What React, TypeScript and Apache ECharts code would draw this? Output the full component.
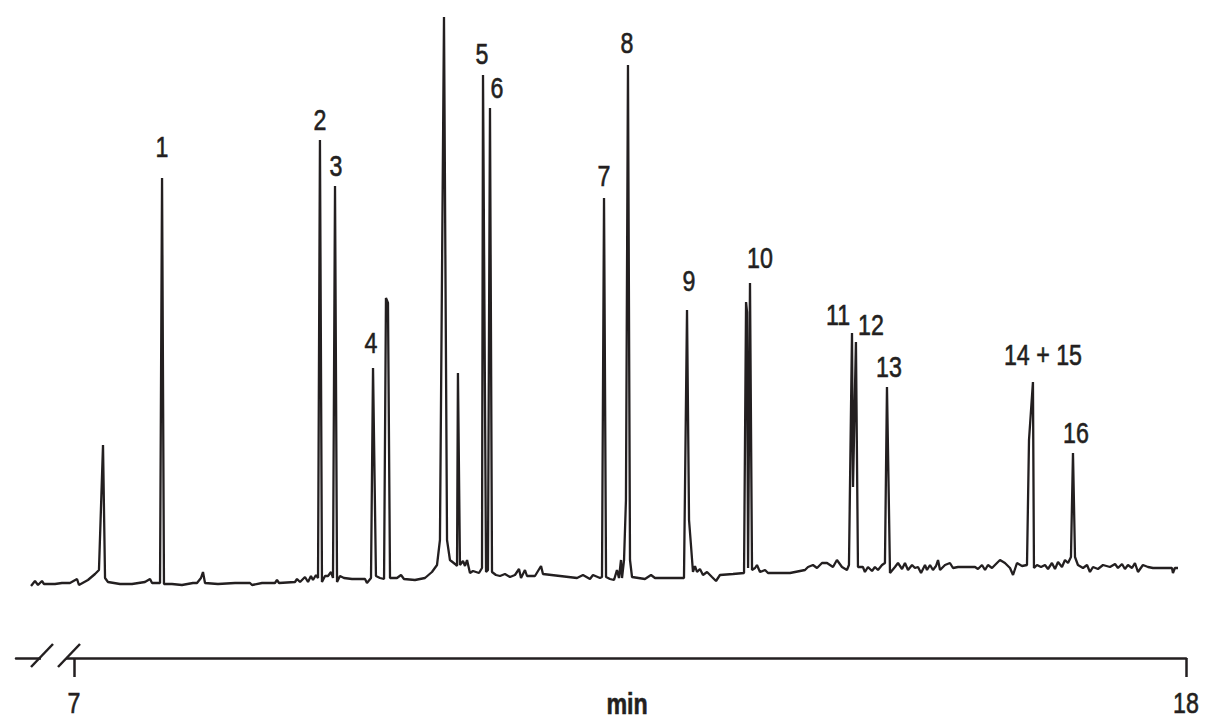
import React, { useEffect, useRef } from "react";
import * as echarts from "echarts";

// Retention time (min) of each sampled point of the chromatogram trace
const retentionTimes = [
  6.575, 6.614, 6.644, 6.683, 6.703, 6.812, 6.881, 6.960, 7.030, 7.049,
  7.138, 7.208, 7.247, 7.287, 7.307, 7.336, 7.455, 7.574, 7.702, 7.752,
  7.772, 7.851, 7.871, 7.890, 7.969, 8.068, 8.177, 8.217, 8.256, 8.276,
  8.296, 8.424, 8.593, 8.741, 8.761, 8.860, 8.988, 9.008, 9.028, 9.186,
  9.206, 9.236, 9.285, 9.315, 9.344, 9.364, 9.394, 9.414, 9.433, 9.453,
  9.483, 9.513, 9.542, 9.562, 9.582, 9.602, 9.631, 9.671, 9.750, 9.879,
  9.898, 9.938, 9.958, 9.987, 10.027, 10.067, 10.086, 10.106, 10.126, 10.195,
  10.235, 10.264, 10.373, 10.472, 10.541, 10.591, 10.620, 10.660, 10.690, 10.719,
  10.769, 10.789, 10.798, 10.818, 10.848, 10.868, 10.888, 10.917, 10.947, 11.006,
  11.036, 11.046, 11.076, 11.095, 11.115, 11.135, 11.174, 11.214, 11.263, 11.313,
  11.362, 11.402, 11.422, 11.461, 11.481, 11.560, 11.620, 11.639, 11.808, 11.976,
  12.035, 12.104, 12.134, 12.203, 12.223, 12.243, 12.263, 12.302, 12.342, 12.371,
  12.391, 12.411, 12.421, 12.441, 12.460, 12.480, 12.500, 12.520, 12.648, 12.708,
  12.747, 13.034, 13.064, 13.084, 13.103, 13.123, 13.143, 13.163, 13.192, 13.222,
  13.262, 13.311, 13.351, 13.390, 13.519, 13.628, 13.648, 13.658, 13.668, 13.687,
  13.707, 13.737, 13.756, 13.786, 13.836, 13.865, 13.984, 14.083, 14.182, 14.231,
  14.261, 14.310, 14.350, 14.399, 14.449, 14.508, 14.547, 14.597, 14.646, 14.666,
  14.696, 14.706, 14.735, 14.755, 14.804, 14.824, 14.854, 14.894, 14.923, 14.953,
  14.993, 15.022, 15.042, 15.072, 15.121, 15.151, 15.191, 15.220, 15.250, 15.290,
  15.319, 15.349, 15.379, 15.418, 15.438, 15.468, 15.497, 15.527, 15.547, 15.567,
  15.616, 15.665, 15.695, 15.745, 15.834, 15.913, 15.942, 15.982, 16.012, 16.041,
  16.081, 16.130, 16.160, 16.209, 16.259, 16.289, 16.328, 16.378, 16.427, 16.447,
  16.486, 16.496, 16.526, 16.566, 16.605, 16.635, 16.674, 16.704, 16.734, 16.773,
  16.803, 16.833, 16.862, 16.882, 16.902, 16.931, 16.981, 17.021, 17.050, 17.080,
  17.129, 17.179, 17.248, 17.298, 17.327, 17.367, 17.396, 17.426, 17.466, 17.495,
  17.525, 17.574, 17.624, 17.673, 17.742, 17.811, 17.861, 17.871, 17.890, 17.921,
];

// Detector response (arbitrary units) at each retention time above
const detectorSignal = [
  72, 77, 73, 77, 74, 74, 75, 75, 79, 73,
  78, 84, 88, 213, 80, 76, 74, 74, 76, 79,
  75, 75, 480, 74, 74, 73, 75, 75, 80, 86,
  75, 74, 75, 75, 73, 75, 75, 78, 75, 76,
  79, 76, 81, 76, 82, 78, 83, 80, 518, 76,
  82, 82, 86, 80, 472, 76, 82, 80, 79, 79,
  75, 80, 290, 82, 80, 79, 360, 355, 80, 80,
  83, 79, 78, 80, 86, 93, 118, 641, 118, 98,
  94, 92, 285, 93, 97, 92, 98, 85, 87, 85,
  90, 583, 86, 88, 550, 86, 83, 82, 84, 81,
  83, 89, 80, 88, 82, 82, 92, 84, 82, 80,
  83, 79, 83, 80, 81, 460, 81, 79, 78, 88,
  80, 98, 80, 98, 158, 593, 98, 81, 79, 83,
  80, 80, 348, 138, 113, 86, 92, 86, 89, 83,
  86, 81, 77, 83, 84, 85, 356, 346, 90, 375,
  88, 90, 93, 86, 88, 85, 85, 85, 87, 88,
  91, 93, 90, 95, 95, 91, 98, 91, 88, 93,
  325, 171, 316, 91, 91, 86, 91, 87, 91, 88,
  93, 95, 271, 85, 91, 95, 89, 95, 88, 93,
  90, 91, 85, 93, 88, 93, 88, 92, 98, 88,
  93, 95, 90, 91, 91, 91, 89, 93, 88, 93,
  90, 95, 98, 95, 90, 83, 95, 92, 93, 218,
  276, 90, 93, 91, 93, 89, 95, 89, 96, 91,
  98, 95, 101, 205, 101, 93, 90, 93, 86, 91,
  89, 93, 91, 94, 90, 94, 89, 93, 90, 95,
  86, 93, 91, 90, 90, 90, 90, 85, 90, 90,
];

// Numbered compounds and the retention time of each apex
const peakNames = [
  "1", "2", "3", "4", "5", "6", "7", "8", "9", "10",
  "11", "12", "13", "14 + 15", "16",
];
const peakTimes = [
  7.871, 9.433, 9.582, 9.958, 11.046, 11.115, 12.243, 12.480, 13.064, 13.687,
  14.696, 14.735, 15.042, 16.486, 16.882,
];

// Labelled ticks of the time axis (min)
const axisTicks = [7, 18];

// Pixel offset of each peak number from its apex
const labelOffsets = [
  [0, -31], [0, -20], [1, -20], [-2, -25], [-1, -21], [7, -20], [0, -22], [-1, -22],
  [2, -29], [10, -25], [-14, -18], [15, -17], [2, -20], [10, -27], [3, -20],
];

const INK = "#231f20";
const FAMILY = '"Liberation Sans", Arial, sans-serif';
const NARROW = 0.8; // horizontal squeeze giving a condensed face

// Condensed text element used for the peak numbers and tick labels
function narrowText(text: string, x: number, y: number, bold = false) {
  return {
    type: "text",
    x,
    y,
    scaleX: NARROW,
    style: {
      text,
      font: `${bold ? "bold " : ""}29px ${FAMILY}`,
      fill: INK,
      stroke: INK,
      lineWidth: 0.6,
      align: "center",
      verticalAlign: "middle",
      textAlign: "center",
      textVerticalAlign: "middle",
    },
  };
}

export default function App() {
  const ref = useRef<HTMLDivElement>(null);

  useEffect(() => {
    document.body.style.margin = "0";
    const chart = echarts.init(ref.current as HTMLDivElement, null, { renderer: "svg" });

    const trace = retentionTimes.map((t, i) => [t, detectorSignal[i]]);
    const apexes = peakTimes.map((t) => [t, detectorSignal[retentionTimes.indexOf(t)]]);
    const tickPoints = axisTicks.map((t) => [t, 0]);

    chart.setOption({
      animation: false,
      backgroundColor: "#ffffff",
      grid: { left: 16, right: 31, top: 8, bottom: 67, outerBoundsMode: "none" },
      xAxis: {
        type: "value",
        min: 6.4263,
        max: 18,
        axisLine: { show: true, lineStyle: { color: INK, width: 2.5 } },
        axisTick: {
          show: true,
          customValues: axisTicks,
          length: 19,
          lineStyle: { color: INK, width: 2.5 },
        },
        axisLabel: { show: false },
        splitLine: { show: false },
      },
      yAxis: { type: "value", min: 0, max: 650, show: false },
      series: [
        {
          type: "line",
          data: trace,
          symbol: "none",
          lineStyle: { color: INK, width: 2.3 },
          silent: true,
          z: 2,
        },
        {
          // peak numbers above each apex
          type: "custom",
          data: apexes,
          silent: true,
          z: 3,
          renderItem: (params: any, api: any) => {
            const i = params.dataIndex;
            const p = api.coord([api.value(0), api.value(1)]);
            const off = labelOffsets[i];
            return narrowText(peakNames[i], p[0] + off[0], p[1] + off[1]);
          },
        },
        {
          // time-axis tick labels
          type: "custom",
          data: tickPoints,
          silent: true,
          z: 3,
          renderItem: (params: any, api: any) => {
            const p = api.coord([api.value(0), api.value(1)]);
            return narrowText(String(axisTicks[params.dataIndex]), p[0], p[1] + 45);
          },
        },
      ],
      graphic: [
        {
          type: "rect",
          z: 100,
          shape: { x: 41, y: 654, width: 25, height: 8 },
          style: { fill: "#ffffff" },
        },
        {
          type: "line",
          z: 101,
          shape: { x1: 31, y1: 667, x2: 53, y2: 644 },
          style: { stroke: INK, lineWidth: 2.5 },
        },
        {
          type: "line",
          z: 101,
          shape: { x1: 58, y1: 667, x2: 80, y2: 644 },
          style: { stroke: INK, lineWidth: 2.5 },
        },
        { ...narrowText("min", 627, 704, true), z: 101 },
      ],
    });

    return () => chart.dispose();
  }, []);

  return <div ref={ref} style={{ width: 1217, height: 725 }} />;
}
